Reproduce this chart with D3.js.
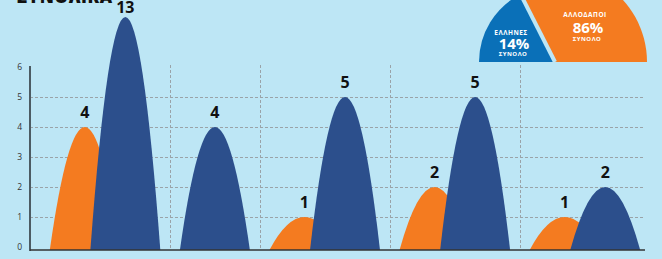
<!DOCTYPE html>
<html>
<head>
<meta charset="utf-8">
<script src="https://cdn.jsdelivr.net/npm/d3@7"></script>
<style>
  html, body { margin: 0; padding: 0; background: #bde6f5; }
  svg { display: block; }
  text { font-family: "Open Sans", "Noto Sans", sans-serif; }
</style>
</head>
<body>
<svg id="chart" width="662" height="259"></svg>
<script>
var width = 662, height = 259;
var bgColor = "#bde6f5";
var orangeColor = "#f47b20";
var blueColor = "#2c4f8c";
var pieBlue = "#0a70b8";

// bar data
var groups = ["g1", "g2", "g3", "g4", "g5"];
var orangeValues = [4, 0, 1, 2, 1];
var blueValues = [13, 4, 5, 5, 2];
var yTicks = [0, 1, 2, 3, 4, 5, 6];

// pie data
var pieLabels = ["ΕΛΛΗΝΕΣ", "ΑΛΛΟΔΑΠΟΙ"];
var pieShares = [14, 86];
var pieSub = "ΣΥΝΟΛΟ";

var title = "ΣΥΝΟΛΙΚΑ";

var axisX = 30, axisRight = 645, baseY = 250;

var svg = d3.select("#chart");

// y scale, broken above 6 so the 13 fits
var y = d3.scaleLinear().domain([0, 6, 13]).range([247, 67, 17]);

// group layout: each bar is 1 unit wide, bars in a group overlap
var barW = 1, barStep = 0.58, pad = 0.14;
var layout = [];
var pos = 0;
groups.forEach(function (g, i) {
  var bars = [];
  if (orangeValues[i] > 0) bars.push({ series: "orange", value: orangeValues[i] });
  if (blueValues[i] > 0) bars.push({ series: "blue", value: blueValues[i] });
  var start = pos;
  bars.forEach(function (b, j) {
    b.center = start + pad + barW / 2 + j * barStep;
  });
  pos = start + 2 * pad + barW + (bars.length - 1) * barStep;
  layout.push({ group: g, start: start, end: pos, bars: bars });
});

var x = d3.scaleLinear().domain([0, pos]).range([axisX + 10, axisRight + 5]);

// grid
var grid = svg.append("g").attr("class", "grid")
  .attr("stroke", "#9aa3a8").attr("stroke-width", 1).attr("stroke-dasharray", "3,2");

grid.selectAll("line.h")
  .data(yTicks.filter(function (d) { return d > 0 && d < 6; }))
  .enter().append("line")
  .attr("class", "h")
  .attr("x1", axisX).attr("x2", axisRight)
  .attr("y1", function (d) { return y(d) + 0.5; })
  .attr("y2", function (d) { return y(d) + 0.5; });

grid.selectAll("line.v")
  .data(layout.slice(1))
  .enter().append("line")
  .attr("class", "v")
  .attr("x1", function (d) { return Math.round(x(d.start)) + 0.5; })
  .attr("x2", function (d) { return Math.round(x(d.start)) + 0.5; })
  .attr("y1", 65).attr("y2", baseY);

// bars (parabolic arches)
function arch(b) {
  var w = x(barW) - x(0);
  var cx = x(b.center);
  var top = y(b.value);
  return "M" + (cx - w / 2) + "," + baseY +
    "Q" + cx + "," + (2 * top - baseY) + " " + (cx + w / 2) + "," + baseY + "Z";
}

var allBars = [];
layout.forEach(function (g) { g.bars.forEach(function (b) { allBars.push(b); }); });
allBars.sort(function (a, b) { return (a.series === "orange" ? 0 : 1) - (b.series === "orange" ? 0 : 1); });

svg.append("g").attr("class", "bars")
  .selectAll("path")
  .data(allBars)
  .enter().append("path")
  .attr("d", arch)
  .attr("fill", function (d) { return d.series === "orange" ? orangeColor : blueColor; });

svg.append("g").attr("class", "labels")
  .selectAll("text")
  .data(allBars)
  .enter().append("text")
  .attr("x", function (d) { return x(d.center); })
  .attr("y", function (d) { return Math.max(y(d.value) - 9, 12.5); })
  .attr("text-anchor", "middle")
  .attr("font-size", 16)
  .attr("font-weight", 700)
  .attr("fill", "#111")
  .text(function (d) { return d.value; });

// axes
var yAxis = d3.axisLeft(y).tickValues(yTicks).tickSize(0).tickPadding(8);
var ya = svg.append("g").attr("transform", "translate(" + axisX + ",0)").call(yAxis);
ya.select(".domain").remove();
ya.selectAll("text").attr("font-size", 8.5).attr("fill", "#333")
  .attr("font-family", "'Open Sans', sans-serif");

svg.append("line")
  .attr("x1", axisX).attr("x2", axisX)
  .attr("y1", y(6) - 1).attr("y2", baseY + 1)
  .attr("stroke", "#4c5b63").attr("stroke-width", 2);

svg.append("line")
  .attr("x1", axisX).attr("x2", axisRight)
  .attr("y1", baseY).attr("y2", baseY)
  .attr("stroke", "#333").attr("stroke-width", 1.5);

// title (mostly cut by the top edge)
svg.append("text")
  .attr("x", 17).attr("y", 2.5)
  .attr("font-size", 17).attr("font-weight", 800).attr("fill", "#111")
  .attr("letter-spacing", 0.6)
  .text(title);

// half pie, top right
var pieCx = 555, pieCy = 62;
var angle = d3.scaleLinear().domain([0, pieShares[0], 100]).range([-Math.PI / 2, -0.47, Math.PI / 2]);
var pieRadius = d3.scaleOrdinal().domain(pieLabels).range([76, 92]);
var pieColor = d3.scaleOrdinal().domain(pieLabels).range([pieBlue, orangeColor]);

var cum = 0;
var slices = pieLabels.map(function (l, i) {
  var s = { label: l, share: pieShares[i], a0: angle(cum) };
  cum += pieShares[i];
  s.a1 = angle(cum);
  return s;
});

var pie = svg.append("g").attr("transform", "translate(" + pieCx + "," + pieCy + ")");
pie.selectAll("path")
  .data(slices)
  .enter().append("path")
  .attr("d", function (d) {
    return d3.arc()({ innerRadius: 0, outerRadius: pieRadius(d.label), startAngle: d.a0, endAngle: d.a1 });
  })
  .attr("fill", function (d) { return pieColor(d.label); });

var gapA = slices[1].a0;
pie.append("line")
  .attr("x1", 0).attr("y1", 0)
  .attr("x2", 110 * Math.sin(gapA)).attr("y2", -110 * Math.cos(gapA))
  .attr("stroke", bgColor).attr("stroke-width", 4);

// pie texts
var pieText = [
  { cx: -44, y0: 34.5, y1: 49, y2: 56 },
  { cx: 30, y0: 16.5, y1: 33, y2: 40.5 }
];
slices.forEach(function (s, i) {
  var t = pieText[i];
  var g = svg.append("g").attr("fill", "#fff").attr("text-anchor", "middle");
  g.append("text").attr("x", pieCx + t.cx).attr("y", t.y0)
    .attr("font-size", 6.5).attr("font-weight", 700).attr("letter-spacing", 0.5).text(s.label);
  g.append("text").attr("x", pieCx + t.cx + 3).attr("y", t.y1)
    .attr("font-size", 15).attr("font-weight", 700).text(s.share + "%");
  g.append("text").attr("x", pieCx + t.cx + 2).attr("y", t.y2)
    .attr("font-size", 6).attr("font-weight", 700).attr("letter-spacing", 0.5).text(pieSub);
});
</script>
</body>
</html>
